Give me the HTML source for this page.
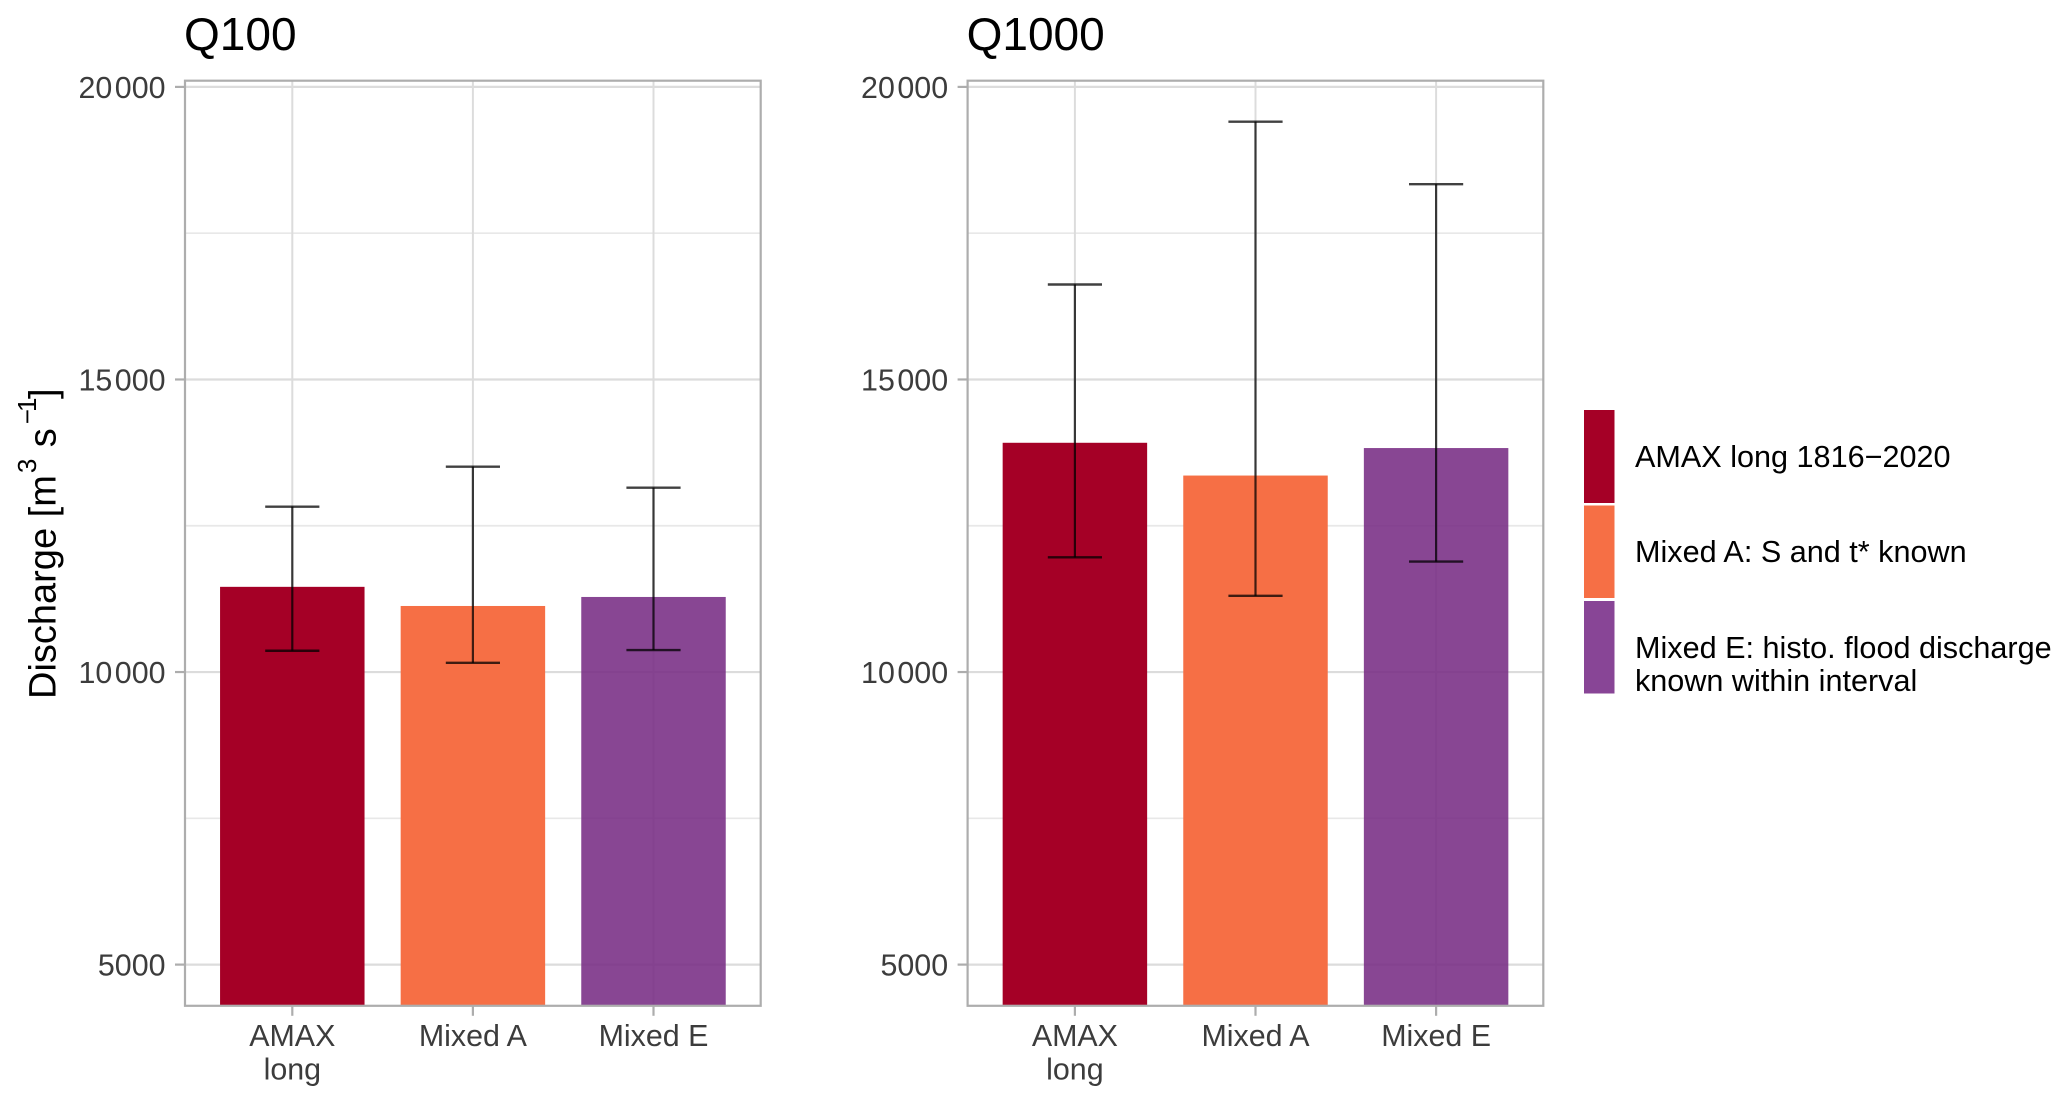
<!DOCTYPE html>
<html lang="en">
<head>
<meta charset="utf-8">
<title>Discharge quantiles Q100 and Q1000</title>
<style>
html,body{margin:0;padding:0;background:#fff;width:2067px;height:1104px;overflow:hidden}
svg{display:block}
text{font-family:"Liberation Sans",Arial,sans-serif}
</style>
</head>
<body>
<svg id="chart" xmlns="http://www.w3.org/2000/svg" width="2067" height="1104" viewBox="0 0 2067 1104">
  <rect x="0" y="0" width="2067" height="1104" fill="#fff"/>
  <text transform="translate(55.5 699) rotate(-90)" font-size="38" fill="#000">Discharge [m<tspan font-size="26" dy="-19.5" dx="2">3</tspan><tspan dy="19.5" dx="11.5">s</tspan><tspan font-size="26" dy="-19.5" dx="4">−</tspan><tspan font-size="26" dx="-3">1</tspan><tspan dy="19.5" dx="-1.5">]</tspan></text>
  <g>
    <rect x="1584" y="410" width="30.5" height="93" fill="#a50026"/>
    <rect x="1584" y="505.5" width="30.5" height="92.5" fill="#f66f45"/>
    <rect x="1584" y="601" width="30.5" height="92.5" fill="#884596"/>
    <text x="1635" y="467" font-size="30.6" fill="#000">AMAX long 1816−2020</text>
    <text x="1635" y="562" font-size="30.6" fill="#000">Mixed A: S and t* known</text>
    <text x="1635" y="658" font-size="30.6" fill="#000">Mixed E: histo. flood discharge</text>
    <text x="1635" y="691" font-size="30.6" fill="#000">known within interval</text>
  </g>
</svg>
<script>
const categories = ["AMAX\nlong", "Mixed A", "Mixed E"];
const seriesColors = ["#a50026", "#f66f45", "#762a83"];
const seriesOpacity = [1, 1, 0.87];
const panelTitles = ["Q100", "Q1000"];
const q100Values = [11456, 11129, 11283];
const q100Upper = [12826, 13510, 13150];
const q100Lower = [10364, 10157, 10376];
const q1000Values = [13918, 13358, 13828];
const q1000Upper = [16623, 19405, 18337];
const q1000Lower = [11960, 11302, 11888];
const majorTicks = [5000, 10000, 15000, 20000];
const minorTicks = [7500, 12500, 17500];
const majorTickLabels = ["5000", "10\u200A000", "15\u200A000", "20\u200A000"];
const yDomain = [4296, 20106];

const NS = "http://www.w3.org/2000/svg";
const svg = document.getElementById("chart");
const plotTop = 80.7;
const plotBottom = 1005.8;
const plotWidth = 575.7;
const bandStep = 180.6;

function yScale(v) {
  return plotBottom - (v - yDomain[0]) / (yDomain[1] - yDomain[0]) * (plotBottom - plotTop);
}
function xScale(plotLeft, i) {
  return plotLeft + 107.3 + bandStep * i;
}
function line(parent, x1, y1, x2, y2, color, width, opacity) {
  const el = document.createElementNS(NS, "line");
  el.setAttribute("x1", x1);
  el.setAttribute("y1", y1);
  el.setAttribute("x2", x2);
  el.setAttribute("y2", y2);
  el.setAttribute("stroke", color);
  el.setAttribute("stroke-width", width);
  if (opacity !== undefined) el.setAttribute("stroke-opacity", opacity);
  parent.appendChild(el);
  return el;
}
function label(parent, x, y, str, anchor, size, color) {
  const el = document.createElementNS(NS, "text");
  el.setAttribute("x", x);
  el.setAttribute("y", y);
  el.setAttribute("text-anchor", anchor);
  el.setAttribute("font-size", size);
  el.setAttribute("fill", color);
  el.textContent = str;
  parent.appendChild(el);
  return el;
}
function drawPanel(key, plotLeft, title, values, upper, lower) {
  const plotRight = plotLeft + plotWidth;
  const g = document.createElementNS(NS, "g");
  
  
  svg.appendChild(g);

  const titleEl = label(g, plotLeft - 1, 50, title, "start", 46, "#000");
  
  

  minorTicks.forEach(function (t) {
    const grid = line(g, plotLeft, yScale(t), plotRight, yScale(t), "#e8e8e8", 1.7);
    
    
  });
  majorTicks.forEach(function (t, i) {
    const grid = line(g, plotLeft, yScale(t), plotRight, yScale(t), "#dcdcdc", 2.2);
    
    
    const tick = line(g, plotLeft - 10, yScale(t), plotLeft, yScale(t), "#adadad", 2.2);
    
    
    const tickText = label(g, plotLeft - 19.5, yScale(t) + 11, majorTickLabels[i], "end", 30.4, "#3c3c3c");
    
    
  });
  categories.forEach(function (c, i) {
    const cx = xScale(plotLeft, i);
    const grid = line(g, cx, plotTop, cx, plotBottom, "#dcdcdc", 2);
    
    
    const tick = line(g, cx, plotBottom, cx, plotBottom + 10, "#adadad", 2.2);
    
    
    c.split("\n").forEach(function (part, j) {
      const catText = label(g, cx, 1046 + j * 33.5, part, "middle", 30.4, "#3c3c3c");
      
      
    });
  });
  values.forEach(function (v, i) {
    const cx = xScale(plotLeft, i);
    const halfBar = bandStep * 0.4;
    const bar = document.createElementNS(NS, "rect");
    
    
    bar.setAttribute("x", cx - halfBar);
    bar.setAttribute("y", yScale(v));
    bar.setAttribute("width", halfBar * 2);
    bar.setAttribute("height", plotBottom - yScale(v));
    bar.setAttribute("fill", seriesColors[i]);
    bar.setAttribute("fill-opacity", seriesOpacity[i]);
    g.appendChild(bar);
  });
  values.forEach(function (v, i) {
    const cx = xScale(plotLeft, i);
    const halfCap = bandStep * 0.15;
    const stem = line(g, cx, yScale(upper[i]), cx, yScale(lower[i]), "#000", 2.2, 0.75);
    
    
    const capHigh = line(g, cx - halfCap, yScale(upper[i]), cx + halfCap, yScale(upper[i]), "#000", 2.4, 0.75);
    
    
    const capLow = line(g, cx - halfCap, yScale(lower[i]), cx + halfCap, yScale(lower[i]), "#000", 2.4, 0.75);
    
    
  });
  const border = document.createElementNS(NS, "rect");
  
  
  border.setAttribute("x", plotLeft);
  border.setAttribute("y", plotTop);
  border.setAttribute("width", plotWidth);
  border.setAttribute("height", plotBottom - plotTop);
  border.setAttribute("fill", "none");
  border.setAttribute("stroke", "#adadad");
  border.setAttribute("stroke-width", 2.2);
  g.appendChild(border);
}
drawPanel("q100", 185, panelTitles[0], q100Values, q100Upper, q100Lower);
drawPanel("q1000", 967.6, panelTitles[1], q1000Values, q1000Upper, q1000Lower);
</script>
</body>
</html>
